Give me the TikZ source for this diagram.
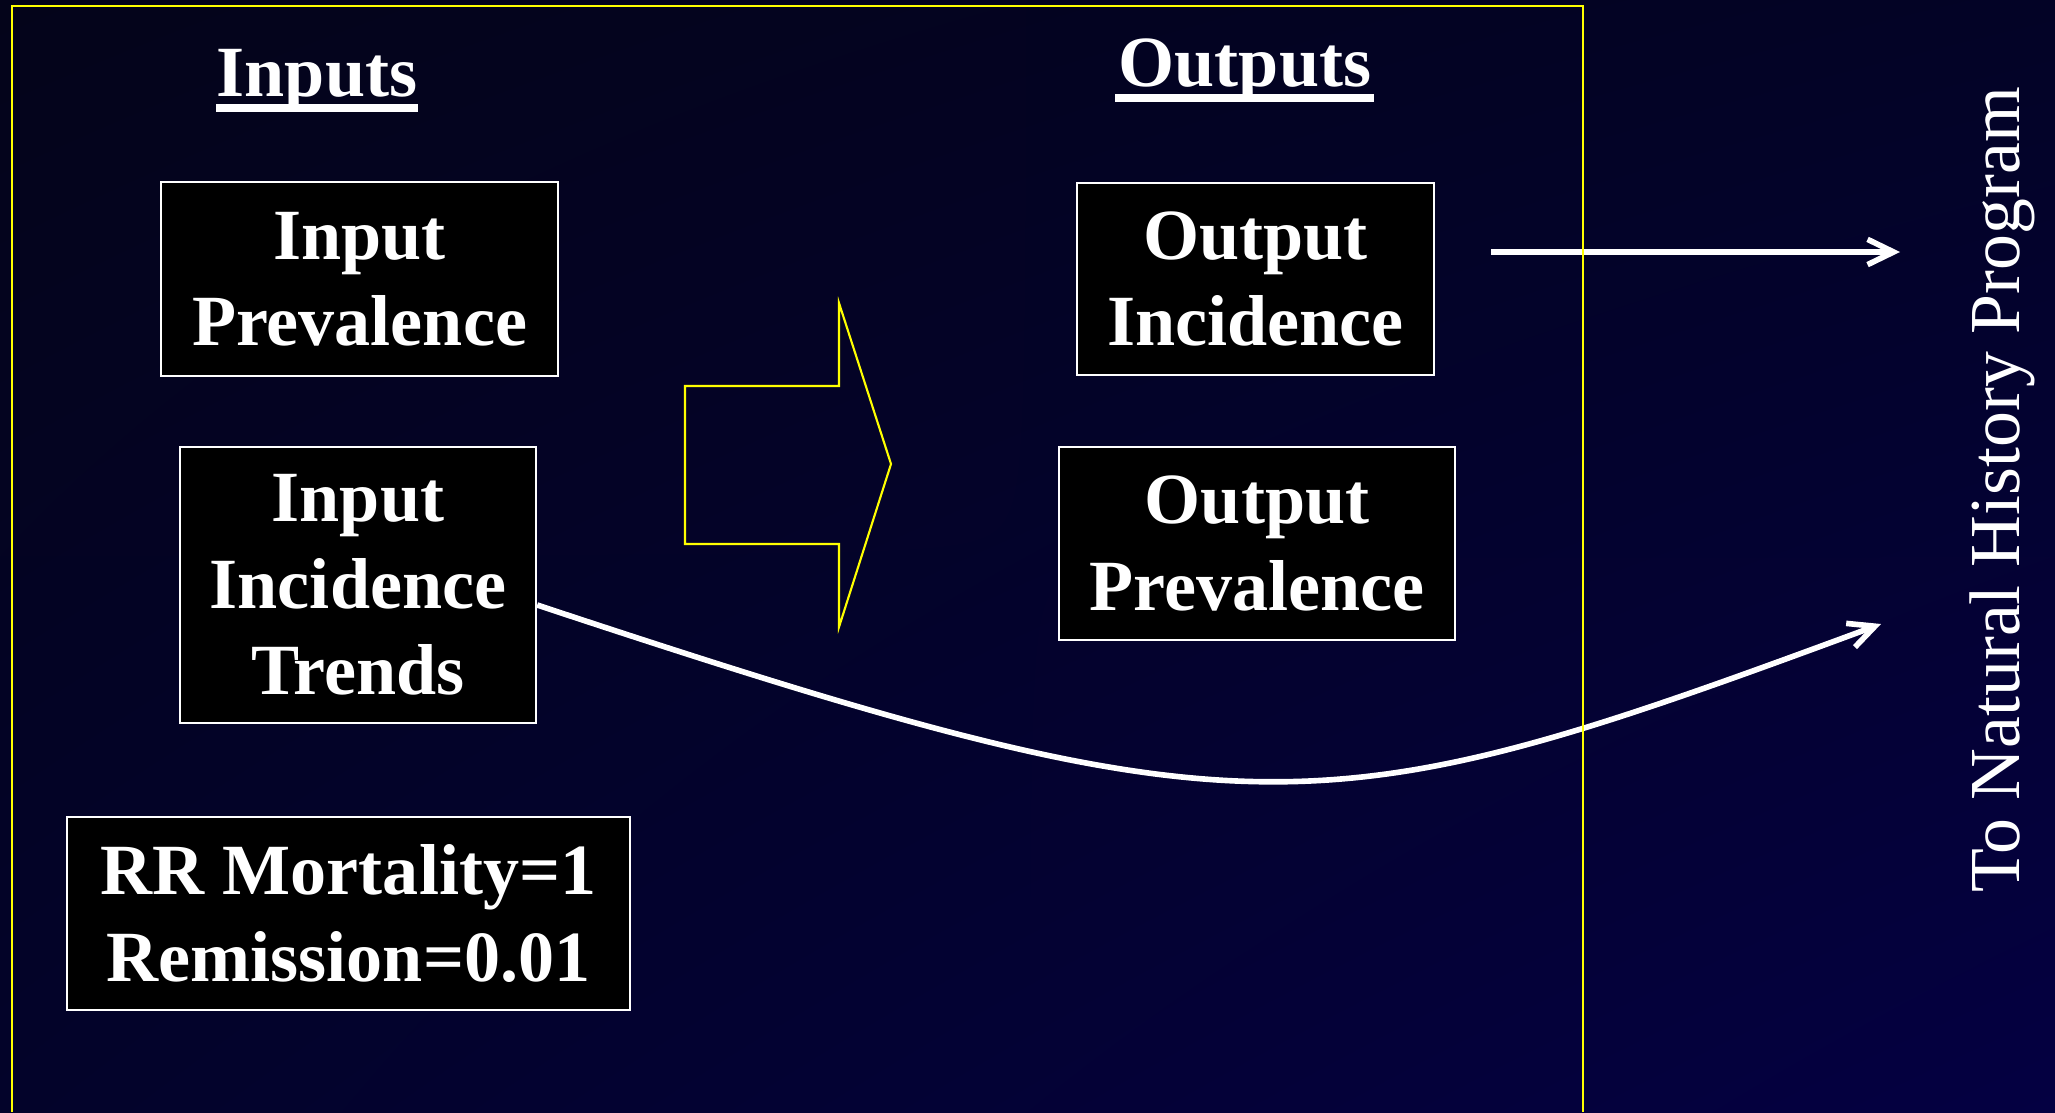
\documentclass[tikz,border=0pt]{standalone}
\usepackage{fontspec}
\setmainfont{Liberation Serif}
\usetikzlibrary{arrows.meta,calc,shadings}

\definecolor{bgTL}{HTML}{04041A}
\definecolor{bgTR}{HTML}{030326}
\definecolor{bgBL}{HTML}{03032A}
\definecolor{bgBR}{HTML}{040042}
\definecolor{frameyellow}{HTML}{FFFF00}

\newcommand\boxfont{\fontsize{20.5}{24.6}\selectfont\bfseries}
\newcommand\sidefont{\fontsize{20.4}{24}\selectfont}

\begin{document}
\begin{tikzpicture}[x=0.01cm,y=-0.01cm,
  box/.style={draw=white, line width=0.6pt, fill=black, text=white,
              align=center, inner sep=0pt, font=\boxfont},
  title/.style={text=white, inner sep=0pt, font=\boxfont},
  underline/.style={draw=white, line width=2pt},
  link/.style={draw=white, line width=1.6pt,
               -{Straight Barb[length=7.4pt,width=7.2pt,line width=1.6pt]}},
  frame/.style={draw=frameyellow, line width=0.6pt},
  blockarrow/.style={draw=frameyellow, line width=0.6pt, line join=miter}]

  % page and backdrop
  \useasboundingbox (0,0) rectangle (2055,1112);
  \shade[upper left=bgTL, upper right=bgTR, lower left=bgBL, lower right=bgBR]
    (0,0) rectangle (2055,1112);

  % column headings
  \node[title, anchor=base] (inputs) at (317,97) {Inputs};
  \draw[underline] ($(inputs.base west)+(0,11)$) -- ($(inputs.base east)+(0,11)$);
  \node[title, anchor=base] (outputs) at (1245,87) {Outputs};
  \draw[underline] ($(outputs.base west)+(-3,11)$) -- ($(outputs.base east)+(2,11)$);

  % input boxes
  \node[box, minimum width=3.97cm, minimum height=1.94cm] (iprev) at (359.5,279)
    {Input\\Prevalence};
  \node[box, minimum width=3.56cm, minimum height=2.76cm] (itrend) at (358,585)
    {Input\\Incidence\\Trends};
  \node[box, minimum width=5.63cm, minimum height=1.93cm] (rr) at (348.5,913.5)
    {RR Mortality=1\\Remission=0.01};

  % output boxes
  \node[box, minimum width=3.57cm, minimum height=1.92cm] (oinc) at (1255.5,279)
    {Output\\Incidence};
  \node[box, minimum width=3.96cm, minimum height=1.93cm] (oprev) at (1257,543.5)
    {Output\\Prevalence};

  % hollow block arrow between the columns
  \draw[blockarrow] (685,386) -- (839,386) -- (839,303) -- (891,464)
    -- (839,627) -- (839,544) -- (685,544) -- cycle;

  % side label
  \node[rotate=90, anchor=base, text=white, inner sep=0pt, font=\sidefont]
    (nhp) at (2019,490) {To Natural History Program};

  % connectors to the side label
  \coordinate (nhA) at (1900,252);
  \coordinate (nhB) at (1881,624);
  \draw[link] ($(oinc.east)+(56,-27)$) -- (nhA);
  \draw[link] ($(itrend.east)+(0,20)$) .. controls (1255,843) and (1321,831) .. (nhB);

  % model frame, open at the bottom
  \draw[frame] (12,1112) -- (12,6) -- (1583,6) -- (1583,1112);
\end{tikzpicture}
\end{document}
